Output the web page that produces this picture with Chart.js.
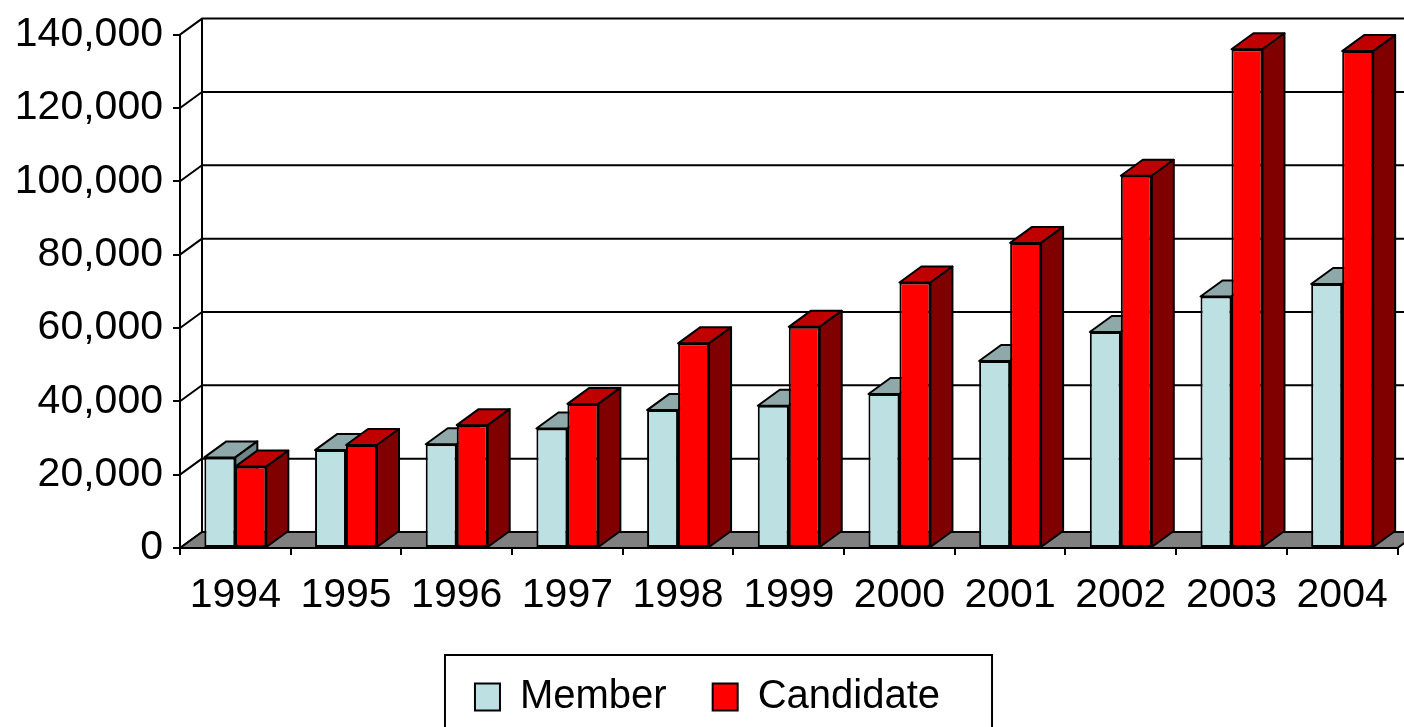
<!DOCTYPE html>
<html>
<head>
  <title>Member vs Candidate</title>
  <script src="https://cdn.jsdelivr.net/npm/chart.js"></script>
  <style>
    html, body { margin: 0; padding: 0; background: #fff; }
    #wrap { width: 1404px; height: 727px; }
  </style>
</head>
<body>
  <div id="wrap">
    <canvas id="memberChart"></canvas>
  </div>

  <script>
    const years = ['1994', '1995', '1996', '1997', '1998', '1999', '2000', '2001', '2002', '2003', '2004'];
    const memberValues = [24700, 26700, 28300, 32600, 37600, 38800, 42000, 51000, 58900, 68600, 72000];
    const candidateValues = [22200, 28100, 33500, 39300, 55800, 60300, 72400, 83200, 101500, 136000, 135500];
    const yTicks = [0, 20000, 40000, 60000, 80000, 100000, 120000, 140000];

    // depth of the fake 3D box
    const DX = 22, DY = 16;

    // side / top shades for each dataset
    const shades = [
      { top: '#8fa9ab', side: '#6e8486' },
      { top: '#c00000', side: '#800000' }
    ];

    function poly(ctx, pts, fill) {
      ctx.beginPath();
      ctx.moveTo(pts[0][0], pts[0][1]);
      for (let i = 1; i < pts.length; i++) ctx.lineTo(pts[i][0], pts[i][1]);
      ctx.closePath();
      if (fill) { ctx.fillStyle = fill; ctx.fill(); }
      ctx.stroke();
    }

    const box3d = {
      id: 'box3d',
      beforeDatasetsDraw(chart) {
        const ctx = chart.ctx;
        const a = chart.chartArea;
        const y = chart.scales.y;
        ctx.save();
        ctx.strokeStyle = '#000';
        ctx.lineWidth = 2;
        ctx.lineJoin = 'round';

        // back wall gridlines + left wall diagonals
        yTicks.forEach(v => {
          const py = y.getPixelForValue(v);
          ctx.beginPath();
          ctx.moveTo(a.left, py);
          ctx.lineTo(a.left + DX, py - DY);
          ctx.lineTo(a.right + DX + 10, py - DY);
          ctx.stroke();
        });
        ctx.beginPath();
        ctx.moveTo(a.left + DX, a.top - DY);
        ctx.lineTo(a.left + DX, a.bottom - DY);
        ctx.stroke();

        // floor
        poly(ctx, [[a.left, a.bottom], [a.right, a.bottom], [a.right + DX, a.bottom - DY], [a.left + DX, a.bottom - DY]], '#808080');

        // top and side faces, fronts are drawn by chart.js afterwards
        for (let i = 0; i < years.length; i++) {
          chart.data.datasets.forEach((ds, d) => {
            const bar = chart.getDatasetMeta(d).data[i];
            const L = bar.x - bar.width / 2, R = bar.x + bar.width / 2;
            const T = bar.y, B = bar.base;
            poly(ctx, [[L, T], [R, T], [R + DX, T - DY], [L + DX, T - DY]], shades[d].top);
            poly(ctx, [[R, T], [R + DX, T - DY], [R + DX, B - DY], [R, B]], shades[d].side);
          });
        }
        ctx.restore();
      },
      afterDraw(chart) {
        // frame round the legend
        const hb = chart.legend.legendHitBoxes;
        if (!hb || !hb.length) return;
        const last = hb[hb.length - 1];
        const ctx = chart.ctx;
        const left = hb[0].left - 30;
        const right = last.left + last.width + 52;
        ctx.save();
        ctx.strokeStyle = '#000';
        ctx.lineWidth = 2;
        ctx.strokeRect(left, hb[0].top - 22, right - left, 120);
        ctx.restore();
      }
    };

    Chart.defaults.font.family = '"Liberation Sans", Arial, sans-serif';
    Chart.defaults.color = '#000';

    new Chart(document.getElementById('memberChart'), {
      type: 'bar',
      data: {
        labels: years,
        datasets: [{
          label: 'Member',
          data: memberValues,
          backgroundColor: '#bde0e3',
          borderColor: '#000',
          borderWidth: 2,
          borderSkipped: false
        }, {
          label: 'Candidate',
          data: candidateValues,
          backgroundColor: '#ff0000',
          borderColor: '#000',
          borderWidth: 2,
          borderSkipped: false
        }]
      },
      options: {
        responsive: true,
        maintainAspectRatio: false,
        animation: false,
        layout: { padding: { top: 30, right: 5, left: 16, bottom: 0 } },
        datasets: {
          bar: { categoryPercentage: 0.56, barPercentage: 1 }
        },
        scales: {
          x: {
            grid: { drawOnChartArea: false, color: '#000', lineWidth: 2, tickLength: 7 },
            border: { display: true, color: '#000', width: 2 },
            ticks: { font: { size: 41 }, padding: 16, maxRotation: 0, autoSkip: false },
            afterFit(scale) { scale.height = 83; }
          },
          y: {
            min: 0,
            max: 140000,
            grid: { drawOnChartArea: false, color: '#000', lineWidth: 2, tickLength: 7 },
            border: { display: true, color: '#000', width: 2 },
            ticks: {
              stepSize: 20000,
              font: { size: 41 },
              padding: 10,
              callback: v => v.toLocaleString('en-US')
            },
            afterFit(scale) { scale.width = 164; }
          }
        },
        plugins: {
          legend: {
            position: 'bottom',
            labels: {
              font: { size: 40 },
              boxWidth: 25,
              boxHeight: 27,
              padding: 46
            }
          },
          tooltip: { enabled: false }
        }
      },
      plugins: [box3d]
    });
  </script>
</body>
</html>
